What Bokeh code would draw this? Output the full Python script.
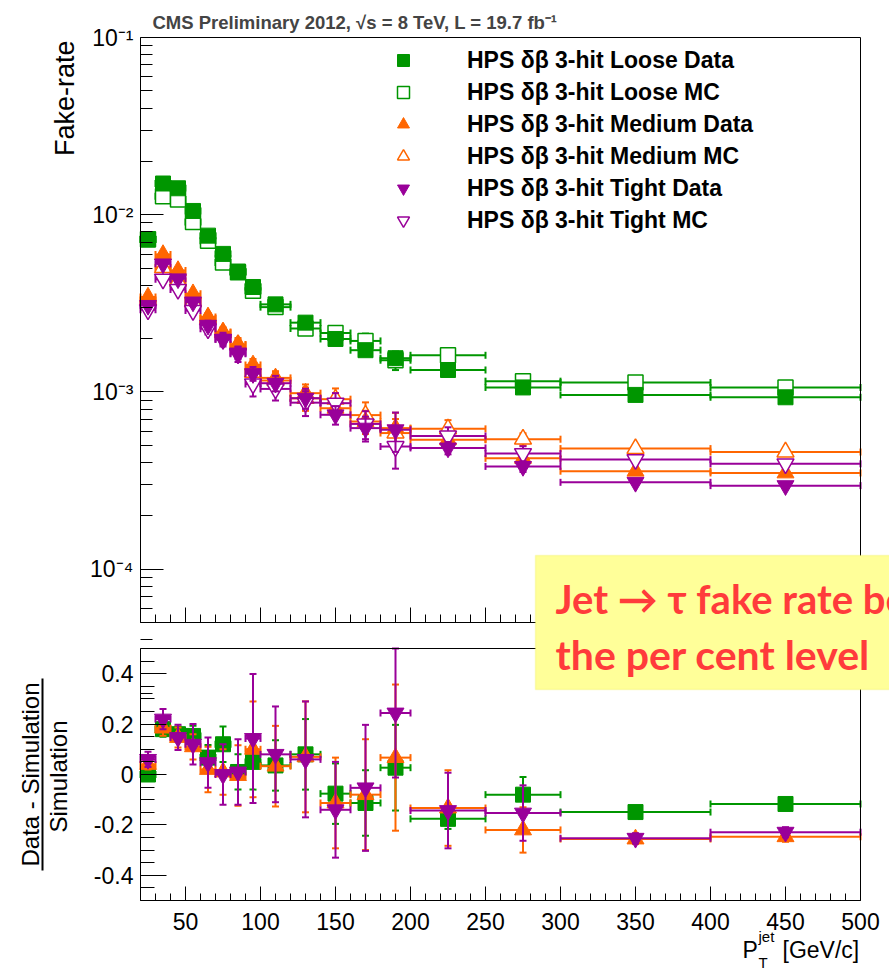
import math
import numpy as np
from bokeh.plotting import figure
from bokeh.models import (Range1d, LogScale, ColumnDataSource, Legend, LegendItem, Label, BoxAnnotation,
                          LinearAxis, LogAxis, SingleIntervalTicker, FixedTicker, CustomJSTickFormatter)
from bokeh.embed import file_html
from bokeh.resources import INLINE

FONT = "Liberation Sans"

# ---------------- data ----------------
pt_center = [25, 35, 45, 55, 65, 75, 85, 95, 110, 130, 150, 170, 190, 225, 275, 350, 450]
pt_low = [20, 30, 40, 50, 60, 70, 80, 90, 100, 120, 140, 160, 180, 200, 250, 300, 400]
pt_high = [30, 40, 50, 60, 70, 80, 90, 100, 120, 140, 160, 180, 200, 250, 300, 400, 500]

loose_data = [0.00724, 0.0150, 0.0141, 0.0105, 0.00762, 0.00601, 0.00478, 0.00391, 0.00312,
              0.00246, 0.00199, 0.00172, 0.00155, 0.00133, 0.00106, 0.000962, 0.000933]
loose_mc = [0.00726, 0.0127, 0.0122, 0.00911, 0.00714, 0.00537, 0.00473, 0.00372, 0.00301,
            0.00228, 0.00215, 0.00194, 0.00151, 0.00161, 0.00115, 0.00113, 0.00106]
medium_data = [0.00343, 0.00596, 0.00484, 0.00358, 0.00265, 0.00218, 0.00184, 0.00142, 0.00120,
               0.000984, 0.000809, 0.000681, 0.000625, 0.000537, 0.000422, 0.000357, 0.000349]
medium_mc = [0.00330, 0.00503, 0.00422, 0.00323, 0.00260, 0.00216, 0.00185, 0.00129, 0.00116,
             0.00092, 0.00091, 0.00074, 0.000586, 0.000619, 0.000541, 0.000479, 0.000458]
tight_data = [0.00308, 0.00528, 0.00435, 0.00322, 0.00238, 0.00198, 0.00166, 0.00127, 0.00112,
              0.000922, 0.000743, 0.000625, 0.000612, 0.000483, 0.000380, 0.000309, 0.000296]
tight_mc = [0.00291, 0.00433, 0.00379, 0.00288, 0.00227, 0.00198, 0.00164, 0.00111, 0.00104,
            0.00087, 0.000864, 0.00066, 0.000492, 0.000564, 0.000449, 0.000415, 0.000393]

# relative (fractional) uncertainties of the fake rates
loose_data_err = [0.02, 0.02, 0.02, 0.025, 0.03, 0.035, 0.04, 0.045, 0.045, 0.05, 0.06, 0.07, 0.08, 0.04, 0.05, 0.02, 0.02]
loose_mc_err = [0.02, 0.02, 0.02, 0.025, 0.03, 0.04, 0.05, 0.06, 0.06, 0.08, 0.08, 0.10, 0.12, 0.03, 0.04, 0.015, 0.02]
medium_data_err = [0.03, 0.03, 0.03, 0.04, 0.05, 0.06, 0.07, 0.08, 0.09, 0.12, 0.10, 0.15, 0.22, 0.08, 0.07, 0.02, 0.02]
medium_mc_err = [0.03, 0.04, 0.04, 0.05, 0.06, 0.07, 0.09, 0.12, 0.12, 0.15, 0.15, 0.18, 0.20, 0.12, 0.08, 0.02, 0.02]
tight_data_err = [0.03, 0.03, 0.04, 0.05, 0.06, 0.07, 0.08, 0.09, 0.10, 0.13, 0.12, 0.16, 0.25, 0.08, 0.07, 0.02, 0.02]
tight_mc_err = [0.03, 0.04, 0.04, 0.05, 0.07, 0.09, 0.10, 0.15, 0.14, 0.16, 0.14, 0.18, 0.25, 0.12, 0.10, 0.02, 0.02]

# (Data - Simulation) / Simulation
ratio_loose = [0.0, 0.18, 0.16, 0.153, 0.067, 0.12, 0.01, 0.05, 0.036, 0.08, -0.076, -0.113, 0.027, -0.176, -0.08, -0.149, -0.117]
ratio_loose_err = [0.02, 0.03, 0.03, 0.04, 0.05, 0.07, 0.07, 0.11, 0.10, 0.14, 0.12, 0.13, 0.17, 0.04, 0.07, 0.01, 0.02]
ratio_medium = [0.04, 0.184, 0.147, 0.11, 0.02, 0.01, -0.004, 0.10, 0.033, 0.07, -0.113, -0.08, 0.067, -0.133, -0.22, -0.256, -0.247]
ratio_medium_err = [0.02, 0.03, 0.04, 0.05, 0.09, 0.09, 0.12, 0.19, 0.16, 0.22, 0.18, 0.22, 0.29, 0.15, 0.09, 0.02, 0.02]
ratio_tight = [0.06, 0.22, 0.147, 0.12, 0.047, 0.0, 0.01, 0.143, 0.08, 0.06, -0.14, -0.053, 0.244, -0.143, -0.153, -0.253, -0.229]
ratio_tight_err = [0.03, 0.04, 0.05, 0.08, 0.10, 0.12, 0.13, 0.256, 0.19, 0.23, 0.19, 0.25, 0.256, 0.15, 0.11, 0.02, 0.02]

legend_labels = ["HPS δβ 3-hit Loose Data", "HPS δβ 3-hit Loose MC",
                 "HPS δβ 3-hit Medium Data", "HPS δβ 3-hit Medium MC",
                 "HPS δβ 3-hit Tight Data", "HPS δβ 3-hit Tight MC"]
y_major_ticks = [1e-4, 1e-3, 1e-2, 1e-1]
y_major_labels = ["10⁻⁴", "10⁻³", "10⁻²", "10⁻¹"]
title_text = "CMS Preliminary 2012, √s = 8 TeV, L = 19.7 fb⁻¹"

X_MIN, X_MAX = 20, 500
FR_MIN, FR_MAX = 5e-5, 0.1
RATIO_MIN, RATIO_MAX = -0.5, 0.5

GREEN = "#009600"
ORANGE = "#ff6600"
PURPLE = "#990099"

# ---------------- layout (pixels on the canvas) ----------------
W, H = 889, 972
FRAME_L, FRAME_R = 140, 860
TOP_T, TOP_B = 37, 622
BOT_T, BOT_B = 648, 900
BASE_SHIFT = 0.35  # Bokeh's alphabetic baseline sits this many em below the anchor

px_per_x = (FRAME_R - FRAME_L) / (X_MAX - X_MIN)
x_start = X_MIN - FRAME_L / px_per_x
x_end = X_MAX + (W - FRAME_R) / px_per_x
dec_per_px = math.log10(FR_MAX / FR_MIN) / (TOP_B - TOP_T)
log_end = FR_MAX * 10 ** (TOP_T * dec_per_px)
log_start = FR_MIN / 10 ** ((H - TOP_B) * dec_per_px)
u_per_px = (RATIO_MAX - RATIO_MIN) / (BOT_B - BOT_T)
lin_start = RATIO_MIN - (H - BOT_B) * u_per_px
lin_end = RATIO_MAX + BOT_T * u_per_px


def px_x(px):
    return X_MIN + (px - FRAME_L) / px_per_x


def py_log(py):
    return FR_MAX * 10 ** ((TOP_T - py) * dec_per_px)


def py_lin(py):
    return RATIO_MAX + (BOT_T - py) * u_per_px


p = figure(width=W, height=H, x_range=Range1d(x_start, x_end), y_range=Range1d(lin_start, lin_end),
           x_axis_location=None, y_axis_location=None, title=None,
           output_backend="svg", toolbar_location=None, min_border=0)
p.extra_y_ranges = {"log": Range1d(log_start, log_end)}
p.extra_y_scales = {"log": LogScale()}
p.grid.visible = False
p.outline_line_color = None
p.background_fill_color = "white"
p.border_fill_color = "white"


def style(ax, tick_in, minor_in, labels=True, size="23px"):
    ax.major_tick_in = tick_in
    ax.major_tick_out = 0
    ax.minor_tick_in = minor_in
    ax.minor_tick_out = 0
    ax.axis_line_color = "black"
    ax.axis_line_width = 1
    ax.major_tick_line_color = "black"
    ax.minor_tick_line_color = "black"
    ax.major_label_text_font = FONT
    ax.major_label_text_font_size = size
    ax.major_label_text_color = "black"
    if not labels:
        ax.formatter = CustomJSTickFormatter(code="return '';")
    return ax


empty = lambda: FixedTicker(ticks=[])
x_ticker = lambda: SingleIntervalTicker(interval=50, num_minor_ticks=5)

# --- axes of the upper (log) panel ---
minor_log = [m * t for t in [1e-5] + y_major_ticks for m in range(2, 10)]
ax = LogAxis(y_range_name="log", fixed_location=X_MIN, bounds=(FR_MIN, FR_MAX),
             ticker=FixedTicker(ticks=y_major_ticks, minor_ticks=minor_log),
             formatter=CustomJSTickFormatter(args=dict(major_vals=y_major_ticks, major_texts=y_major_labels), code="""
    for (let i = 0; i < major_vals.length; i++) {
        if (Math.abs(Math.log10(tick) - Math.log10(major_vals[i])) < 1e-6) return major_texts[i];
    }
    return '';
"""))
style(ax, 23, 12)
ax.major_label_standoff = 7
p.add_layout(ax, "left")
p.add_layout(style(LogAxis(y_range_name="log", fixed_location=X_MAX, bounds=(FR_MIN, FR_MAX), ticker=empty()), 0, 0, False), "right")
p.add_layout(style(LinearAxis(y_range_name="log", fixed_location=FR_MAX, bounds=(X_MIN, X_MAX), ticker=empty()), 0, 0, False), "above")
p.add_layout(style(LinearAxis(y_range_name="log", fixed_location=FR_MIN, bounds=(X_MIN, X_MAX), ticker=x_ticker()), 15, 8, False), "below")

# --- axes of the lower (ratio) panel ---
ax = LinearAxis(fixed_location=X_MIN, bounds=(RATIO_MIN, RATIO_MAX),
                ticker=SingleIntervalTicker(interval=0.2, num_minor_ticks=4),
                formatter=CustomJSTickFormatter(code="return Math.abs(tick) < 1e-9 ? '0' : tick.toFixed(1);"))
style(ax, 26, 14)
ax.major_label_standoff = 7
p.add_layout(ax, "left")
p.add_layout(style(LinearAxis(fixed_location=X_MAX, bounds=(RATIO_MIN, RATIO_MAX), ticker=empty()), 0, 0, False), "right")
p.add_layout(style(LinearAxis(fixed_location=RATIO_MAX, bounds=(X_MIN, X_MAX), ticker=empty()), 0, 0, False), "above")
ax = LinearAxis(fixed_location=RATIO_MIN, bounds=(X_MIN, X_MAX), ticker=x_ticker())
style(ax, 14, 7)
ax.major_label_standoff = 12
p.add_layout(ax, "below")


# ---------------- helpers ----------------
def draw_errors(y, ylo, yhi, color, range_name="default", lw=2, cap=7):
    src = ColumnDataSource(dict(x=pt_center, lo=pt_low, hi=pt_high, y=y, ylo=ylo, yhi=yhi))
    kw = dict(source=src, line_color=color, line_width=lw, y_range_name=range_name)
    p.segment(x0="lo", y0="y", x1="hi", y1="y", **kw)
    p.segment(x0="x", y0="ylo", x1="x", y1="yhi", **kw)
    for cx, cy, ang in (("lo", "y", math.pi / 2), ("hi", "y", math.pi / 2), ("x", "ylo", 0.0), ("x", "yhi", 0.0)):
        p.scatter(x=cx, y=cy, marker="dash", angle=ang, size=cap, **kw)
    return src


def hlabel(text, px, base_py, size, font=FONT, style="normal", color="black", level="annotation"):
    p.add_layout(Label(x=px_x(px), y=py_lin(base_py - BASE_SHIFT * size), text=text, text_font=font,
                       text_font_style=style, text_font_size=f"{size}px", text_color=color,
                       text_baseline="alphabetic", level=level))


def vlabel(text, base_px, py, size, align, range_name="default"):
    conv = py_log if range_name == "log" else py_lin
    p.add_layout(Label(x=px_x(base_px - BASE_SHIFT * size), y=conv(py), y_range_name=range_name, text=text,
                       angle=math.pi / 2, text_font=FONT, text_font_size=f"{size}px", text_color="black",
                       text_align=align, text_baseline="alphabetic"))


# ---------------- upper panel: fake rates ----------------
series = [
    (GREEN, "square", 15, loose_data, loose_data_err, loose_mc, loose_mc_err),
    (ORANGE, "triangle", 17, medium_data, medium_data_err, medium_mc, medium_mc_err),
    (PURPLE, "inverted_triangle", 17, tight_data, tight_data_err, tight_mc, tight_mc_err),
]
legend_renderers = []
for color, marker, size, dat, dat_e, mc, mc_e in series:
    dat = np.array(dat)
    mc = np.array(mc)
    src_mc = draw_errors(mc, mc * (1 - np.array(mc_e)), mc * (1 + np.array(mc_e)), color, "log")
    r_mc = p.scatter(x="x", y="y", source=src_mc, marker=marker, size=size, fill_color="white",
                     line_color=color, line_width=1.5, y_range_name="log")
    src_d = draw_errors(dat, dat * (1 - np.array(dat_e)), dat * (1 + np.array(dat_e)), color, "log")
    r_d = p.scatter(x="x", y="y", source=src_d, marker=marker, size=size, fill_color=color,
                    line_color=color, line_width=1, y_range_name="log")
    legend_renderers += [r_d, r_mc]

# ---------------- lower panel: ratios ----------------
ratio_series = [
    (GREEN, "square", 15, ratio_loose, ratio_loose_err),
    (ORANGE, "triangle", 17, ratio_medium, ratio_medium_err),
    (PURPLE, "inverted_triangle", 17, ratio_tight, ratio_tight_err),
]
for color, marker, size, r, e in ratio_series:
    r = np.array(r)
    e = np.array(e)
    src = draw_errors(r, r - e, r + e, color)
    p.scatter(x="x", y="y", source=src, marker=marker, size=size, fill_color=color,
              line_color=color, line_width=1)

# ---------------- legend ----------------
LEG_TOP, LEG_GLYPH_L = 45, 386
legend = Legend(items=[LegendItem(label=lab, renderers=[r]) for lab, r in zip(legend_labels, legend_renderers)],
                location=(LEG_GLYPH_L, H - (LEG_TOP + 6 * 30 + 5 * 2)), orientation="vertical",
                glyph_width=34, glyph_height=30, spacing=2, padding=0, margin=0, label_standoff=47,
                label_text_font=FONT, label_text_font_style="bold", label_text_font_size="23px",
                label_text_color="black", border_line_color=None, background_fill_alpha=0)
p.add_layout(legend)

# ---------------- texts ----------------
p.add_layout(Label(x=px_x(152), y=py_log(28 - BASE_SHIFT * 18.5), y_range_name="log", text=title_text,
                   text_font=FONT, text_font_style="bold", text_font_size="18.5px", text_baseline="alphabetic"))
vlabel("Fake-rate", 74, 40, 27, "right", "log")

# ratio-panel y title: (Data - Simulation) / Simulation
vlabel("Data - Simulation", 38, 774, 24, "center")
vlabel("Simulation", 66, 776, 24, "center")
p.add_layout(BoxAnnotation(left=41, right=43, top=678, bottom=870,
                           left_units="canvas", right_units="canvas", top_units="canvas", bottom_units="canvas",
                           fill_color="black", fill_alpha=1.0, line_color=None))

# x title  P_T^jet [GeV/c]
hlabel("P", 742, 958, 23)
hlabel("T", 758, 967, 15)
hlabel("jet", 758, 941, 15)
hlabel("[GeV/c]", 782, 958, 23)

# yellow note box
p.add_layout(BoxAnnotation(left=535, right=900, top=555, bottom=689,
                           left_units="canvas", right_units="canvas", top_units="canvas", bottom_units="canvas",
                           fill_color="#ffff99", fill_alpha=1.0, line_color="#eeee55", line_width=1.5,
                           level="overlay"))
hlabel("Jet → τ fake rate be", 555, 612, 40, font="Lato", style="bold", color="#ff3b3b", level="overlay")
hlabel("the per cent level", 555, 668, 41, font="Lato", style="bold", color="#ff3b3b", level="overlay")

open("out.html", "w").write(file_html(p, INLINE))
